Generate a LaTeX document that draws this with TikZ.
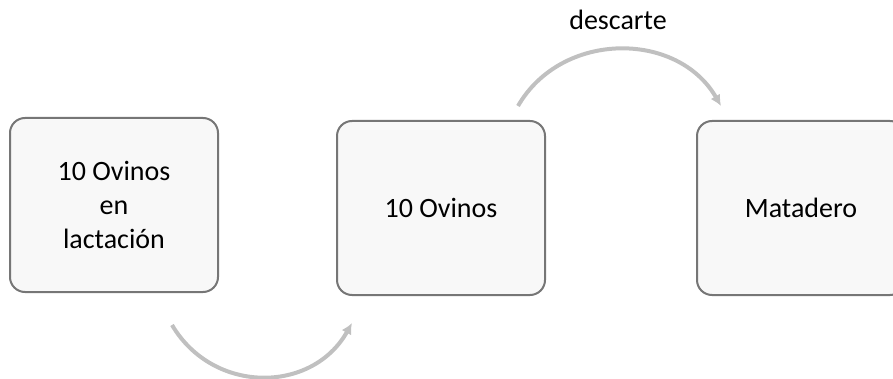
\documentclass[tikz,border=0pt]{standalone}
\usepackage{fontspec}
\setmainfont{Carlito}
\usepackage{tikz}
\usetikzlibrary{arrows.meta, positioning, calc}
\definecolor{boxline}{HTML}{767676}
\definecolor{boxfill}{HTML}{F8F8F8}
\definecolor{arcgray}{HTML}{C0C0C0}

\begin{document}
\begin{tikzpicture}[
        x=1pt, y=-1pt,
        box/.style={
            rectangle,
            rounded corners=15pt,
            draw=boxline,
            line width=2pt,
            fill=boxfill,
            minimum width=208pt,
            minimum height=174pt,
            align=center,
            font=\fontsize{28}{34}\selectfont
        },
        arrow/.style={-{Latex[length=11pt,width=11pt]},line width=4pt,draw=arcgray}
    ]
    \useasboundingbox (0,0) rectangle (893,379);
    \begin{scope}
        \clip (0,0) rectangle (893,379);
        % cajas
        \node[box] (N1) at (114,205) {10 Ovinos\\en\\lactación};
        \node[box] (N2) at (441,208) {10 Ovinos};
        \node[box] (N3) at (801,208) {Matadero};
    \end{scope}

    % extremos de los arcos
    \coordinate (A1) at (172,325);
    \coordinate (A2) at (352,323);
    \coordinate (B1) at (518,106);
    \coordinate (B2) at (721,106);

    % arcos
    \draw[arrow] (A1) to[bend right=60, looseness=1.15] (A2);
    \draw[arrow] (B1) to[bend left=60, looseness=1.1] (B2);

    % etiqueta
    \node[font=\fontsize{28}{34}\selectfont] (L) at (618,20) {descarte};
\end{tikzpicture}
\end{document}
